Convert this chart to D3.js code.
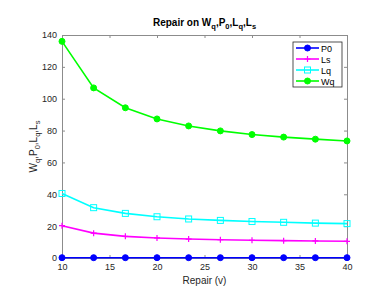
<!DOCTYPE html>
<html>
<head>
<meta charset="utf-8">
<script src="https://cdn.jsdelivr.net/npm/d3@7"></script>
<style>
  body { margin: 0; background: #fff; }
  svg { font-family: "Liberation Sans", Arial, sans-serif; }
  .tick text { fill: #262626; font-size: 9px; }
</style>
</head>
<body>
<div id="plot"></div>
<script>
// Data
const repair = [10, 13.33, 16.67, 20, 23.33, 26.67, 30, 33.33, 36.67, 40];
const P0 = [0.2, 0.2, 0.2, 0.2, 0.2, 0.2, 0.2, 0.2, 0.2, 0.2];
const Ls = [20.3, 15.6, 13.6, 12.6, 11.9, 11.5, 11.1, 10.9, 10.7, 10.5];
const Lq = [40.5, 31.6, 28.0, 25.9, 24.5, 23.6, 22.9, 22.4, 21.9, 21.6];
const Wq = [136, 106.8, 94.3, 87.3, 82.9, 79.8, 77.5, 75.9, 74.6, 73.5];
const xTicks = [10, 15, 20, 25, 30, 35, 40];
const yTicks = [0, 20, 40, 60, 80, 100, 120, 140];

const series = [
    { name: 'P0', values: P0, color: '#0000ff', marker: 'dot' },
    { name: 'Ls', values: Ls, color: '#ff00ff', marker: 'plus' },
    { name: 'Lq', values: Lq, color: '#00ffff', marker: 'square' },
    { name: 'Wq', values: Wq, color: '#00ff00', marker: 'dot' }
];

const W = 382, H = 291;
const margin = { top: 35, right: 35, bottom: 33, left: 62 };
const width = W - margin.left - margin.right;
const height = H - margin.top - margin.bottom;

const svg = d3.select('#plot').append('svg')
    .attr('width', W).attr('height', H);

const g = svg.append('g')
    .attr('transform', `translate(${margin.left},${margin.top})`);

const x = d3.scaleLinear().domain([10, 40]).range([0, width]);
const y = d3.scaleLinear().domain([0, 140]).range([height, 0]);

const axisColor = '#8c8c8c';

// axes with inward ticks (box on)
function styleAxis(sel) {
    sel.select('.domain').attr('stroke', axisColor);
    sel.selectAll('.tick line').attr('stroke', axisColor);
}

g.append('g').attr('transform', `translate(0,${height})`)
    .call(d3.axisBottom(x).tickValues(xTicks).tickSizeInner(-3).tickSizeOuter(0).tickPadding(6))
    .call(styleAxis);
g.append('g')
    .call(d3.axisTop(x).tickValues(xTicks).tickSizeInner(-3).tickSizeOuter(0).tickFormat(''))
    .call(styleAxis);
g.append('g')
    .call(d3.axisLeft(y).tickValues(yTicks).tickSizeInner(-3).tickSizeOuter(0).tickPadding(5))
    .call(styleAxis);
g.append('g').attr('transform', `translate(${width},0)`)
    .call(d3.axisRight(y).tickValues(yTicks).tickSizeInner(-3).tickSizeOuter(0).tickFormat(''))
    .call(styleAxis);

// markers
function drawMarker(sel, type, color) {
    if (type === 'dot') {
        sel.append('circle').attr('r', 3).attr('fill', color).attr('stroke', color);
    } else if (type === 'plus') {
        sel.append('path').attr('d', 'M-3,0H3M0,-3V3')
            .attr('stroke', color).attr('stroke-width', 1.2).attr('fill', 'none');
    } else {
        sel.append('rect').attr('x', -3).attr('y', -3).attr('width', 6).attr('height', 6)
            .attr('fill', 'none').attr('stroke', color).attr('stroke-width', 1);
    }
}

const line = d3.line().x(d => x(d[0])).y(d => y(d[1]));

series.forEach(s => {
    const pts = repair.map((r, i) => [r, s.values[i]]);
    g.append('path').datum(pts)
        .attr('fill', 'none')
        .attr('stroke', s.color)
        .attr('stroke-width', 1.6)
        .attr('d', line);
    pts.forEach(p => {
        const m = g.append('g').attr('transform', `translate(${x(p[0])},${y(p[1])})`);
        drawMarker(m, s.marker, s.color);
    });
});

// title
const title = svg.append('text')
    .attr('x', margin.left + width / 2)
    .attr('y', 26)
    .attr('text-anchor', 'middle')
    .style('font-size', '10px')
    .style('font-weight', 'bold')
    .attr('fill', '#000');
title.append('tspan').text('Repair on W');
title.append('tspan').attr('dy', 3).style('font-size', '7.5px').text('q');
title.append('tspan').attr('dy', -3).text(',P');
title.append('tspan').attr('dy', 3).style('font-size', '7.5px').text('0');
title.append('tspan').attr('dy', -3).text(',L');
title.append('tspan').attr('dy', 3).style('font-size', '7.5px').text('q');
title.append('tspan').attr('dy', -3).text(',L');
title.append('tspan').attr('dy', 3).style('font-size', '7.5px').text('s');

// x label
svg.append('text')
    .attr('x', margin.left + width / 2)
    .attr('y', 284)
    .attr('text-anchor', 'middle')
    .style('font-size', '10px')
    .attr('fill', '#262626')
    .text('Repair (v)');

// y label
const yl = svg.append('text')
    .attr('transform', `translate(37,${margin.top + height / 2}) rotate(-90)`)
    .attr('text-anchor', 'middle')
    .style('font-size', '10px')
    .attr('fill', '#262626');
yl.append('tspan').text('W');
yl.append('tspan').attr('dy', 3).style('font-size', '7.5px').text('q');
yl.append('tspan').attr('dy', -3).text(',P');
yl.append('tspan').attr('dy', 3).style('font-size', '7.5px').text('0');
yl.append('tspan').attr('dy', -3).text(',L');
yl.append('tspan').attr('dy', 3).style('font-size', '7.5px').text('q');
yl.append('tspan').attr('dy', -3).text(',L');
yl.append('tspan').attr('dy', 3).style('font-size', '7.5px').text('s');

// legend
const legend = svg.append('g').attr('transform', 'translate(293,42)');
legend.append('rect')
    .attr('width', 49).attr('height', 45)
    .attr('fill', '#fff').attr('stroke', '#262626').attr('stroke-width', 0.8);
series.forEach((s, i) => {
    const row = legend.append('g').attr('transform', `translate(0,${6 + i * 11})`);
    row.append('line').attr('x1', 3).attr('x2', 26)
        .attr('stroke', s.color).attr('stroke-width', 1.6);
    const m = row.append('g').attr('transform', 'translate(14.5,0)');
    drawMarker(m, s.marker, s.color);
    row.append('text').attr('x', 28).attr('y', 3.5)
        .style('font-size', '9px').attr('fill', '#000').text(s.name);
});
</script>
</body>
</html>
